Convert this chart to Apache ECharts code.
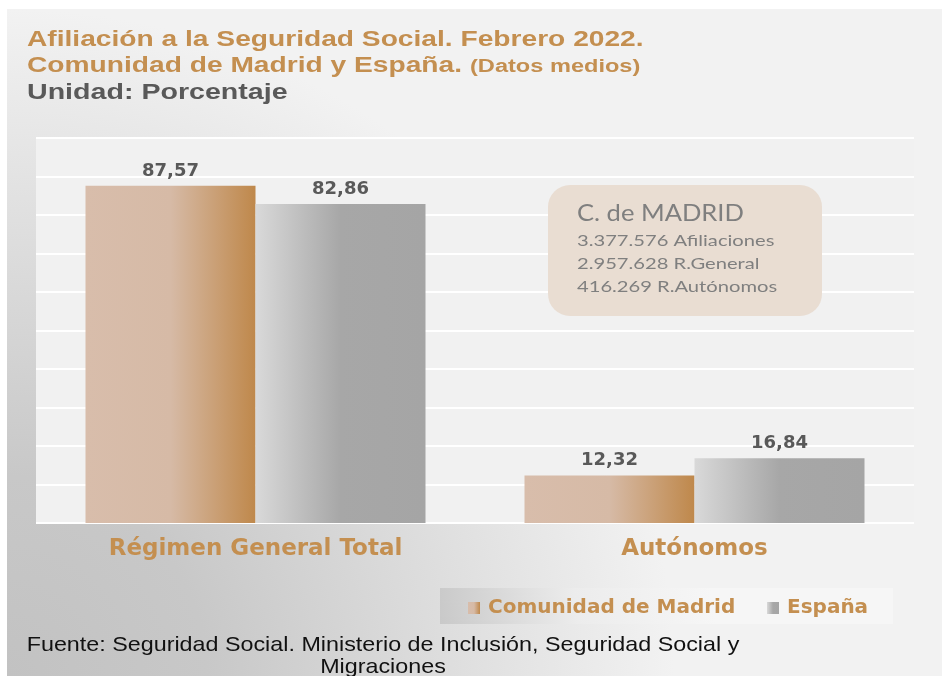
<!DOCTYPE html>
<html><head><meta charset="utf-8">
<script src="https://cdn.jsdelivr.net/npm/echarts@6/dist/echarts.min.js"></script>
<style>html,body{margin:0;padding:0;background:#fff}#c{width:942px;height:676px}</style>
</head><body><div id="c"></div>
<script>
const categories = ['Régimen General Total', 'Autónomos'];
const madrid = [87.57, 12.32];
const espana = [82.86, 16.84];
const seriesNames = ['Comunidad de Madrid', 'España'];
const yTicks = {min: 0, max: 100, interval: 10};
const boxTitle = 'C. de MADRID';
const boxLines = ['3.377.576 Afiliaciones', '2.957.628 R.General', '416.269 R.Autónomos'];
const titleLines = ['Afiliación a la Seguridad Social. Febrero 2022.', 'Comunidad de Madrid y España.', '(Datos medios)', 'Unidad: Porcentaje'];
const footerLines = ['Fuente: Seguridad Social. Ministerio de Inclusión, Seguridad Social y', 'Migraciones'];

const chart = echarts.init(document.getElementById('c'), null, {renderer: 'canvas'});
const gold = '#c48f50';
const BOLD = "'DejaVu Sans', sans-serif";
const ARIAL = "'Liberation Sans', Arial, sans-serif";
const BOX = "Lato, 'Open Sans', sans-serif";
const fmt = p => p.value.toFixed(2).replace('.', ',');
const madridGrad = new echarts.graphic.LinearGradient(0, 0, 1, 0, [
  {offset: 0, color: '#d8bdab'}, {offset: 0.5, color: '#d6baa6'}, {offset: 1, color: '#bf884b'}]);
const espanaGrad = new echarts.graphic.LinearGradient(0, 0, 1, 0, [
  {offset: 0, color: '#d9d9d9'}, {offset: 0.5, color: '#a7a7a7'}, {offset: 1, color: '#a5a5a5'}]);

function txt(x, y, text, font, size, fill, weight, align, sx) {
  return {type: 'text', z: 100, x: x, y: y, scaleX: sx || 1, silent: true,
    style: {text: text, fontFamily: font, fontSize: size, fontWeight: weight || 'normal', fill: fill, align: align || 'left', verticalAlign: 'middle'}};
}

chart.setOption({
  animation: false,
  graphic: [
    {type: 'rect', z: -10, silent: true, shape: {x: 7, y: 9, width: 935, height: 667},
     style: {fill: new echarts.graphic.RadialGradient(0, 1, 1, [
       {offset: 0, color: '#c2c2c2'}, {offset: 0.3, color: '#c8c8c8'}, {offset: 0.75, color: '#e3e3e3'}, {offset: 1, color: '#f2f2f2'}])}},
    {type: 'rect', z: -5, silent: true, shape: {x: 440, y: 588, width: 453, height: 36},
     style: {fill: new echarts.graphic.LinearGradient(0, 1, 0.6, 0, [
       {offset: 0, color: '#c9c9c9'}, {offset: 0.5, color: '#ececec'}, {offset: 1, color: '#f6f6f6'}])}},
    txt(27, 40, titleLines[0], ARIAL, 22, gold, 'bold', 'left', 1.28),
    txt(27, 66, titleLines[1], ARIAL, 22, gold, 'bold', 'left', 1.28),
    txt(470, 67, titleLines[2], ARIAL, 18, gold, 'bold', 'left', 1.31),
    txt(27, 93, titleLines[3], ARIAL, 22, '#595959', 'bold', 'left', 1.3),
    {type: 'rect', z: 100, silent: true, shape: {x: 548, y: 185, width: 274, height: 131, r: 22}, style: {fill: '#e9ddd2'}},
    txt(577, 214, boxTitle, BOX, 23, '#7f7f7f', 'normal', 'left', 1.11),
    txt(577, 241, boxLines[0], BOX, 16, '#7f7f7f', 'normal', 'left', 1.26),
    txt(577, 264, boxLines[1], BOX, 16, '#7f7f7f', 'normal', 'left', 1.26),
    txt(577, 287, boxLines[2], BOX, 16, '#7f7f7f', 'normal', 'left', 1.26),
    txt(383, 645, footerLines[0], ARIAL, 21, '#111111', 'normal', 'center', 1.11),
    txt(383, 667, footerLines[1], ARIAL, 21, '#111111', 'normal', 'center', 1.11)
  ],
  legend: [
    {left: 463, top: 593, itemWidth: 12, itemHeight: 12, icon: 'rect',
     textStyle: {fontFamily: BOLD, fontWeight: 'bold', fontSize: 20, color: gold, padding: [0, 0, 0, 3]},
     data: [seriesNames[0]]},
    {left: 762, top: 593, itemWidth: 12, itemHeight: 12, icon: 'rect',
     textStyle: {fontFamily: BOLD, fontWeight: 'bold', fontSize: 20, color: gold, padding: [0, 0, 0, 3]},
     data: [seriesNames[1]]}
  ],
  grid: {left: 36, right: 28, top: 138, bottom: 153, show: true, backgroundColor: '#f1f1f1', borderWidth: 0},
  xAxis: {
    type: 'category', data: categories,
    axisLine: {show: false}, axisTick: {show: false},
    axisLabel: {margin: 15, fontFamily: BOLD, fontWeight: 'bold', fontSize: 23, color: gold}
  },
  yAxis: {
    type: 'value', min: yTicks.min, max: yTicks.max, interval: yTicks.interval,
    axisLabel: {show: false}, axisLine: {show: false}, axisTick: {show: false},
    splitLine: {lineStyle: {color: '#ffffff', width: 2}}
  },
  series: [
    {name: seriesNames[0], type: 'bar', data: madrid, barWidth: 170, barGap: '0%',
     itemStyle: {color: madridGrad},
     label: {show: true, position: 'top', distance: 6, formatter: fmt, fontFamily: BOLD, fontWeight: 'bold', fontSize: 18, color: '#595959'}},
    {name: seriesNames[1], type: 'bar', data: espana, barWidth: 170,
     itemStyle: {color: espanaGrad},
     label: {show: true, position: 'top', distance: 6, formatter: fmt, fontFamily: BOLD, fontWeight: 'bold', fontSize: 18, color: '#595959'}}
  ]
});
</script></body></html>
